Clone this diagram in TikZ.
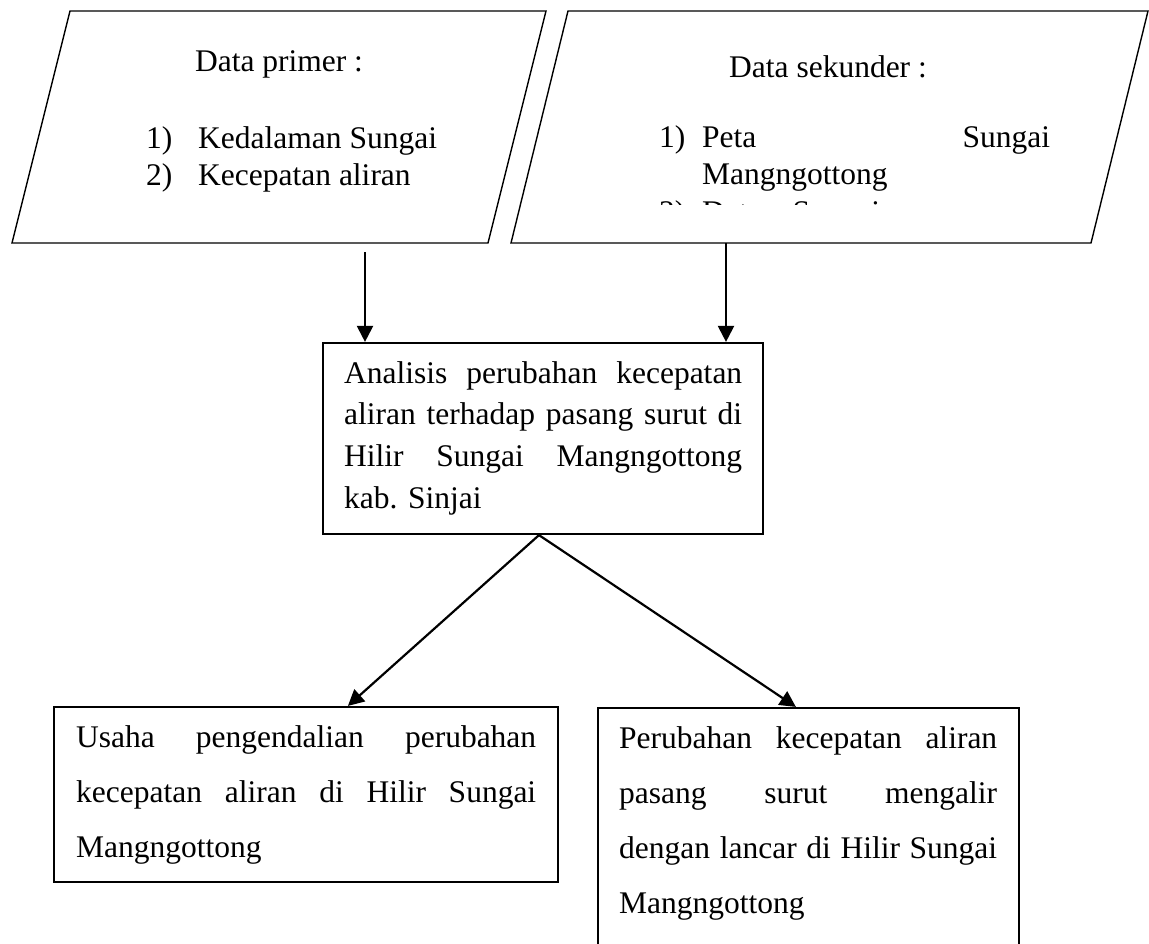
\documentclass[tikz,border=0pt]{standalone}
\usepackage{fontspec}
\setmainfont{Liberation Serif}
\usetikzlibrary{arrows.meta,calc}
\tikzset{
  para/.style={draw=black, line width=1.4pt, line join=miter},
  boxnode/.style={draw=black, line width=2.2pt, inner sep=0pt},
  txt/.style={inner sep=0pt, anchor=base west, font=\fontsize{31.5}{37}\selectfont},
  arr/.style={draw=black, line width=2.2pt, -{Triangle[length=16pt,width=16pt]}},
}
\newcommand{\jblock}[3]{\parbox[t]{#1}{\fontsize{31.5}{#2}\selectfont\tolerance=10000\hbadness=10000\hyphenpenalty=10000 #3}}
\begin{document}
\begin{tikzpicture}[x=1pt,y=-1pt]
\useasboundingbox (0,0) rectangle (1149,943);
\fill[white] (0,0) rectangle (1149,943);
\clip (0,0) rectangle (1149,943);

% input parallelograms
\draw[para] (70,11) -- (546,11) -- (488,243) -- (12,243) -- cycle;
\draw[para] (568,11) -- (1148,11) -- (1091,243) -- (511,243) -- cycle;
\coordinate (p1out) at (365,252);
\coordinate (p2out) at (726,243);

% primary data
\node[txt, anchor=base] (prim) at (279,71) {Data primer :};
\node[txt] (pn1) at (146,148) {1)};
\node[txt] (pi1) at (198,148) {Kedalaman Sungai};
\node[txt] (pn2) at (146,185) {2)};
\node[txt] (pi2) at (198,185) {Kecepatan aliran};

% secondary data
\node[txt, anchor=base] (sek) at (828,77) {Data sekunder :};
\node[txt] (sn1) at (659,147) {1)};
\node[txt] (si1) at (702,147) {\jblock{348pt}{37pt}{Peta Sungai\linebreak Mangngottong}};
\begin{scope}
  \clip (600,150) rectangle (1100,204);
  \node[txt] (sn2) at (659,222) {2)};
  \node[txt] (si2) at (702,222) {\makebox[178pt][s]{Data Sungai}};
\end{scope}

% analysis box
\node[boxnode, minimum width=440pt, minimum height=191pt] (mid) at (543,438.5) {};
\node[txt] (midt) at (344,383) {\jblock{398pt}{41.7pt}{Analisis perubahan kecepatan\linebreak aliran terhadap pasang surut di\linebreak Hilir Sungai Mangngottong\linebreak kab. Sinjai}};

% result boxes
\node[boxnode, minimum width=504pt, minimum height=175pt] (bl) at (306,794.5) {};
\node[txt] (blt) at (76,747) {\jblock{460pt}{55pt}{Usaha pengendalian perubahan\linebreak kecepatan aliran di Hilir Sungai\linebreak Mangngottong}};
\node[boxnode, minimum width=421pt, minimum height=300pt] (br) at (808.5,858) {};
\node[txt] (brt) at (619,748) {\jblock{378pt}{55pt}{Perubahan kecepatan aliran\linebreak pasang surut mengalir\linebreak dengan lancar di Hilir Sungai\linebreak Mangngottong}};

% connectors
\draw[arr] (p1out) -- (p1out |- mid.north);
\draw[arr] (p2out) -- (p2out |- mid.north);
\coordinate (split) at ($(mid.south)+(-4,0)$);
\draw[arr] (split) -- ($(bl.north west)+(295,0)$);
\draw[arr] (split) -- ($(br.north west)+(199,0)$);
\end{tikzpicture}
\end{document}
